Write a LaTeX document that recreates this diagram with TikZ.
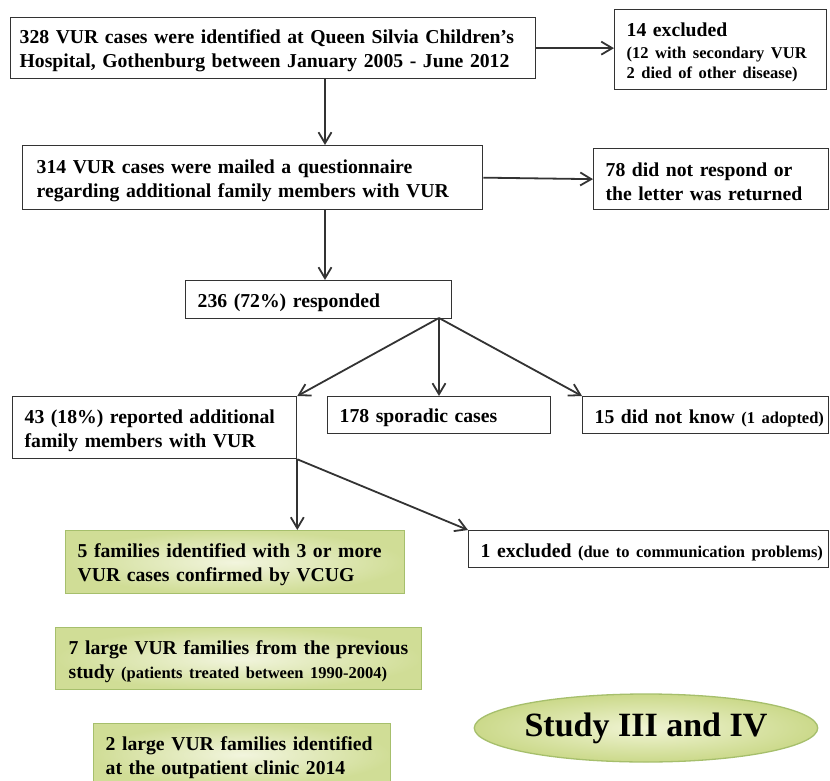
\documentclass[tikz,border=0pt]{standalone}
\usepackage{fontspec}
\setmainfont{Liberation Serif}
\usetikzlibrary{arrows.meta,shapes.geometric}
\definecolor{lineC}{HTML}{333333}
\definecolor{gborder}{HTML}{A6BF6C}
\definecolor{ginner}{HTML}{F2F5DE}
\definecolor{gouter}{HTML}{D0DD96}
\definecolor{einner}{HTML}{F0F4D4}
\definecolor{eouter}{HTML}{CBD98A}
\newcommand{\smtxt}{\fontsize{16.5}{20}\selectfont}
\newcommand{\oneline}[1]{\mbox{\raisebox{-3pt}[\height][\depth]{#1}}}
\begin{document}
\begin{tikzpicture}[x=1pt,y=-1pt,
  box/.style={draw=lineC, line width=1.3pt, anchor=north west, inner xsep=12pt, inner ysep=0pt,
    align=left, font=\bfseries\fontsize{19.7}{24}\selectfont, text=black},
  gbox/.style={box, draw=gborder, inner color=ginner, outer color=gouter},
  arr/.style={draw=lineC, line width=1.8pt, -{Straight Barb[length=11pt,width=13pt,line width=1.8pt]}},
]
\useasboundingbox (0,0) rectangle (830,781);

\node[box, inner xsep=9pt, minimum width=525pt, minimum height=61pt, text width=507pt] (b1) at (10,17)
  {\oneline{328 VUR cases were identified at Queen Silvia Children's}\\\oneline{Hospital, Gothenburg between January 2005 - June 2012}};
\node[box, minimum width=212pt, minimum height=80pt, text width=188pt] (ex1) at (614,9)
  {\oneline{14 excluded}\par\vspace{2pt}{\smtxt \oneline{(12 with secondary VUR}\\\oneline{2 died of other disease)}\par}};

\node[box, inner xsep=14pt, minimum width=460pt, minimum height=64pt, text width=432pt] (b2) at (22,145)
  {\oneline{314 VUR cases were mailed a questionnaire}\\\oneline{regarding additional family members with VUR}};
\node[box, minimum width=235pt, minimum height=61pt, text width=211pt] (nr) at (593,148)
  {\oneline{78 did not respond or}\\\oneline{the letter was returned}};

\node[box, minimum width=266pt, minimum height=38pt, text width=242pt] (r236) at (185,280)
  {\oneline{236 (72\%) responded}};

\node[box, minimum width=284pt, minimum height=62pt, text width=260pt] (b43) at (12,396)
  {\oneline{43 (18\%) reported additional}\\\oneline{family members with VUR}};
\node[box, minimum width=223pt, minimum height=37pt, text width=199pt] (b178) at (327,396)
  {\oneline{178 sporadic cases}};
\node[box, minimum width=246pt, minimum height=37pt, text width=222pt] (b15) at (582,396)
  {\oneline{15 did not know {\smtxt(1 adopted)}}};

\node[gbox, minimum width=339pt, minimum height=63pt, text width=315pt] (g5) at (65,530)
  {\oneline{5 families identified with 3 or more}\\\oneline{VUR cases confirmed by VCUG}};
\node[box, minimum width=360pt, minimum height=37pt, text width=336pt] (ex2) at (468,530)
  {\oneline{1 excluded {\smtxt(due to communication problems)}}};

\node[gbox, inner xsep=13pt, minimum width=366pt, minimum height=62pt, text width=340pt] (g7) at (55,627)
  {\oneline{7 large VUR families from the previous}\\\oneline{study {\smtxt(patients treated between 1990-2004)}}};
\node[gbox, minimum width=297pt, minimum height=62pt, text width=273pt] (g2) at (93,723)
  {\oneline{2 large VUR families identified}\\\oneline{at the outpatient clinic 2014}};

\node[ellipse, draw=gborder, line width=1.3pt, inner color=einner, outer color=eouter,
  minimum width=279pt, minimum height=68pt, inner sep=0pt,
  font=\bfseries\fontsize{34}{40}\selectfont] (study) at (646,728) {Study III and IV};

\coordinate (cx) at (325,0);
\coordinate (fork) at (439,318);

\draw[arr] (b1.east) -- (b1.east -| ex1.west);
\draw[arr] (b1.south -| cx) -- (b2.north -| cx);
\draw[arr] (b2.east) -- (nr.west);
\draw[arr] (b2.south -| cx) -- (r236.north -| cx);
\draw[arr] (fork) -- (b43.north east);
\draw[arr] (fork) -- (fork |- b178.north);
\draw[arr] (fork) -- (b15.north west);
\draw[arr] (b43.south east) -- (b43.south east |- g5.north);
\draw[arr] (b43.south east) -- (ex2.north west);
\end{tikzpicture}
\end{document}
